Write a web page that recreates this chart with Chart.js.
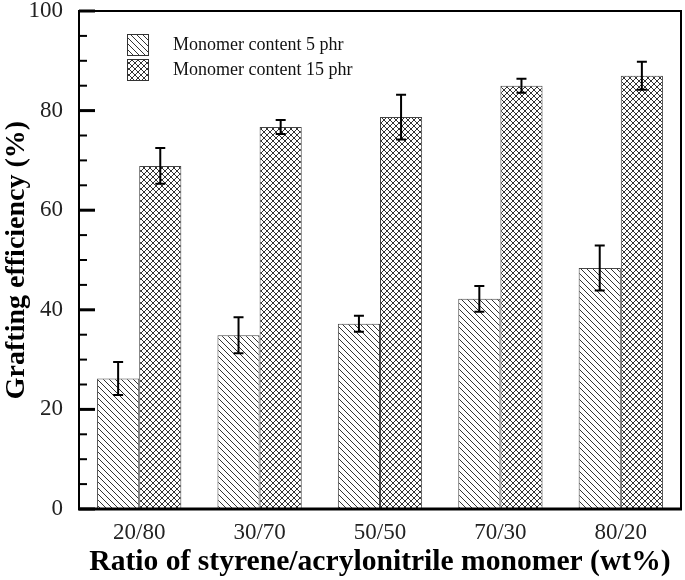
<!DOCTYPE html>
<html><head><meta charset="utf-8">
<script src="https://cdn.jsdelivr.net/npm/chart.js@4.4.0/dist/chart.umd.min.js"></script>
<style>html,body{margin:0;padding:0;background:#fff}#wrap{width:685px;height:580px}</style>
</head><body><div id="wrap"><canvas id="c" width="685" height="580"></canvas></div>
<script>
const categories = ['20/80', '30/70', '50/50', '70/30', '80/20'];
const seriesNames = ['Monomer content 5 phr', 'Monomer content 15 phr'];
const values5 = [26.2, 34.9, 37.2, 42.2, 48.4];
const errors5 = [3.3, 3.6, 1.6, 2.6, 4.5];
const values15 = [68.9, 76.7, 78.7, 85.0, 87.0];
const errors15 = [3.6, 1.4, 4.5, 1.4, 2.8];
const yMajorTicks = [0, 20, 40, 60, 80, 100];
const yMinorTicks = [5, 10, 15, 25, 30, 35, 45, 50, 55, 65, 70, 75, 85, 90, 95];

const SERIF = "'Liberation Serif', 'Times New Roman', serif";

function makePattern(kind) {
  const s = 6;
  const c = document.createElement('canvas');
  c.width = s; c.height = s;
  const g = c.getContext('2d');
  g.fillStyle = '#fff'; g.fillRect(0, 0, s, s);
  g.strokeStyle = '#333'; g.lineWidth = 1;
  g.beginPath();
  for (let k = -1; k <= 1; k++) {
    g.moveTo(0, k * s); g.lineTo(s, s + k * s);
  }
  if (kind === 'cross') {
    for (let k = 0; k <= 2; k++) {
      g.moveTo(0, k * s); g.lineTo(s, k * s - s);
    }
  }
  g.stroke();
  return g.createPattern(c, 'repeat');
}
const diagPat = makePattern('diag');
const crossPat = makePattern('cross');

const errorBars = {
  id: 'errorBars',
  afterDatasetsDraw(chart) {
    const ctx = chart.ctx, y = chart.scales.y;
    const errs = [errors5, errors15];
    chart.data.datasets.forEach((ds, i) => {
      const meta = chart.getDatasetMeta(i);
      meta.data.forEach((el, j) => {
        const v = ds.data[j], e = errs[i][j];
        const yt = y.getPixelForValue(v + e), yb = y.getPixelForValue(v - e);
        ctx.save();
        ctx.strokeStyle = '#000'; ctx.lineWidth = 2;
        ctx.beginPath();
        ctx.moveTo(el.x, yt); ctx.lineTo(el.x, yb);
        ctx.moveTo(el.x - 5, yt); ctx.lineTo(el.x + 5, yt);
        ctx.moveTo(el.x - 5, yb); ctx.lineTo(el.x + 5, yb);
        ctx.stroke();
        ctx.restore();
      });
    });
  }
};

const frame = {
  id: 'frame',
  afterDraw(chart) {
    const ctx = chart.ctx, a = chart.chartArea, y = chart.scales.y;
    ctx.save();
    ctx.strokeStyle = '#000';
    ctx.lineWidth = 2;
    ctx.beginPath();
    ctx.moveTo(a.left, a.bottom); ctx.lineTo(a.left, a.top);
    ctx.lineTo(a.right, a.top); ctx.lineTo(a.right, a.bottom);
    ctx.stroke();
    ctx.lineWidth = 3;
    ctx.beginPath();
    ctx.moveTo(a.left - 1, a.bottom); ctx.lineTo(a.right + 1, a.bottom);
    ctx.stroke();
    ctx.lineWidth = 3;
    yMajorTicks.forEach(v => {
      const p = y.getPixelForValue(v);
      ctx.beginPath(); ctx.moveTo(a.left, p); ctx.lineTo(a.left + 16, p); ctx.stroke();
    });
    ctx.lineWidth = 2;
    yMinorTicks.forEach(v => {
      const p = y.getPixelForValue(v);
      ctx.beginPath(); ctx.moveTo(a.left, p); ctx.lineTo(a.left + 8, p); ctx.stroke();
    });
    ctx.restore();
  }
};

const innerLegend = {
  id: 'innerLegend',
  afterDraw(chart) {
    const ctx = chart.ctx;
    const pats = [diagPat, crossPat];
    ctx.save();
    chart.data.datasets.forEach((ds, i) => {
      const bx = 127, by = 34 + i * 25, bs = 21;
      ctx.fillStyle = pats[i];
      ctx.fillRect(bx, by, bs, bs);
      ctx.strokeStyle = '#333'; ctx.lineWidth = 1;
      ctx.strokeRect(bx + 0.5, by + 0.5, bs, bs);
      ctx.fillStyle = '#111';
      ctx.font = '18px ' + SERIF;
      ctx.textBaseline = 'middle';
      ctx.textAlign = 'left';
      ctx.fillText(ds.label, 173, by + bs / 2 + 1);
    });
    ctx.restore();
  }
};

new Chart(document.getElementById('c'), {
  type: 'bar',
  data: {
    labels: categories,
    datasets: [
      { label: seriesNames[0], data: values5, backgroundColor: diagPat, borderColor: '#444', borderWidth: 1 },
      { label: seriesNames[1], data: values15, backgroundColor: crossPat, borderColor: '#444', borderWidth: 1 }
    ]
  },
  options: {
    responsive: false,
    animation: false,
    devicePixelRatio: 1,
    categoryPercentage: 0.7,
    barPercentage: 1.0,
    layout: { padding: { left: 0, right: 4, top: 11, bottom: 0 } },
    plugins: { legend: { display: false }, tooltip: { enabled: false } },
    scales: {
      x: {
        grid: { display: false, drawTicks: false },
        border: { display: false },
        ticks: { font: { family: SERIF, size: 23 }, color: '#222', padding: 10 },
        title: { display: true, text: 'Ratio of styrene/acrylonitrile monomer (wt%)', font: { family: SERIF, size: 29.6, weight: 'bold' }, color: '#000', padding: { top: 0, bottom: 0 } },
        afterFit(s) { s.height = 71; s.paddingLeft = 0; s.paddingRight = 0; }
      },
      y: {
        min: 0, max: 100,
        grid: { display: false, drawTicks: false },
        border: { display: false },
        ticks: { stepSize: 20, font: { family: SERIF, size: 23 }, color: '#222', padding: 16 },
        title: { display: true, text: 'Grafting efficiency (%)', font: { family: SERIF, size: 28, weight: 'bold' }, color: '#000', padding: { top: 0, bottom: 0 } },
        afterFit(s) { s.width = 79; s.paddingTop = 0; s.paddingBottom = 0; }
      }
    }
  },
  plugins: [errorBars, frame, innerLegend]
});
</script>
</body></html>
